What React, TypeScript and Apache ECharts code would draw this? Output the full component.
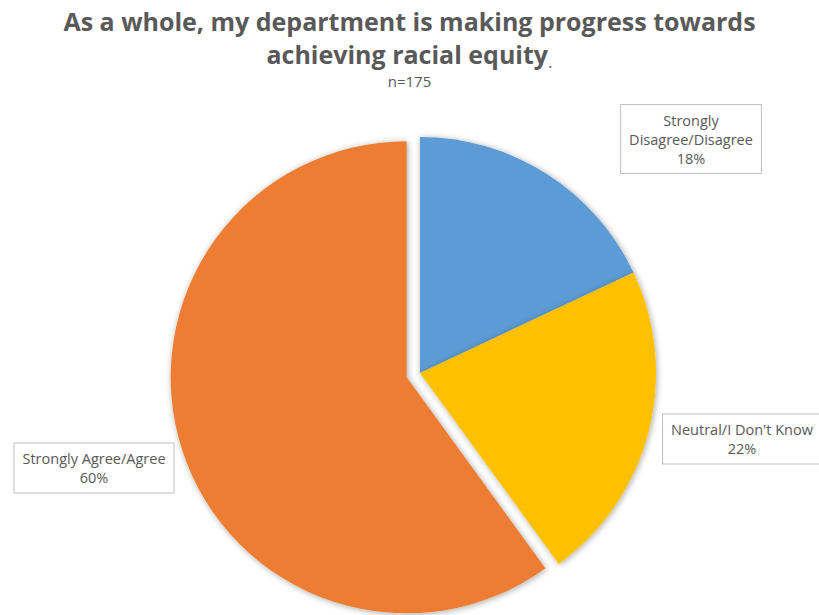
import React, { useEffect, useRef } from "react";
import * as echarts from "echarts";

const categories = ["Strongly Disagree/Disagree", "Neutral/I Don't Know", "Strongly Agree/Agree"];
const labelTexts = ["Strongly\nDisagree/Disagree", "Neutral/I Don't Know", "Strongly Agree/Agree"];
const values = [18, 22, 60];
const colors = ["#5B9BD5", "#FFC000", "#ED7D31"];
const exploded = [false, false, true];
const titleLine1 = "As a whole, my department is making progress towards";
const titleLine2 = "achieving racial equity";
const subtitle = "n=175";

const CENTER = [420, 373];
const RADIUS = 236;
const EXPLODE = 14;
const labelPos = [
  { x: 691, y: 139 },
  { x: 742, y: 439 },
  { x: 94, y: 468 },
];

export default function App() {
  const ref = useRef<HTMLDivElement>(null);
  useEffect(() => {
    if (!ref.current) return;
    const chart = echarts.init(ref.current, undefined, { renderer: "svg" });
    const total = values.reduce((a, b) => a + b, 0);
    // explosion offset of exploded slice along its bisector (clockwise from 12 o'clock)
    let acc = 0;
    let offX = 0;
    let offY = 0;
    values.forEach((v, i) => {
      const mid = ((acc + v / 2) / total) * Math.PI * 2;
      if (exploded[i]) {
        offX = EXPLODE * Math.sin(mid);
        offY = -EXPLODE * Math.cos(mid);
      }
      acc += v;
    });

    const shadow = {
      shadowBlur: 6,
      shadowColor: "rgba(0,0,0,0.35)",
      shadowOffsetX: 1,
      shadowOffsetY: 1,
    };
    const hidden = {
      itemStyle: { color: "rgba(0,0,0,0)", shadowBlur: 0, shadowColor: "rgba(0,0,0,0)" },
      label: { show: false },
    };
    const labelStyle = {
      show: true,
      position: "outside",
      fontFamily: "Open Sans",
      fontSize: 14.5,
      lineHeight: 19,
      color: "#595959",
      backgroundColor: "#ffffff",
      borderColor: "#bfbfbf",
      borderWidth: 1,
      padding: [6, 8, 5, 8],
      align: "center",
      formatter: (p: any) => `${labelTexts[p.dataIndex]}\n${p.percent}%`,
    };
    const makeSeries = (explodedPart: boolean) => ({
      type: "pie",
      center: explodedPart ? [CENTER[0] + offX, CENTER[1] + offY] : CENTER,
      radius: RADIUS,
      startAngle: 90,
      clockwise: true,
      avoidLabelOverlap: false,
      silent: true,
      itemStyle: shadow,
      label: labelStyle,
      labelLine: { show: false },
      labelLayout: (p: any) => ({
        x: labelPos[p.dataIndex].x,
        y: labelPos[p.dataIndex].y,
        align: "center",
        verticalAlign: "middle",
      }),
      emphasis: { disabled: true },
      data: categories.map((name, i) =>
        exploded[i] === explodedPart
          ? { name, value: values[i], itemStyle: { color: colors[i] } }
          : { name, value: values[i], ...hidden }
      ),
    });

    chart.setOption({
      animation: false,
      backgroundColor: "#ffffff",
      title: [
        {
          text: `{b|${titleLine1}}\n{b|${titleLine2}}{n|.}`,
          left: "center",
          top: -1,
          textStyle: {
            rich: {
              b: { fontFamily: "Open Sans", fontWeight: "bold", fontSize: 25, color: "#595959", lineHeight: 33 },
              n: { fontFamily: "Open Sans", fontWeight: "normal", fontSize: 17, color: "#595959", lineHeight: 33, verticalAlign: "bottom" },
            },
          },
        },
        {
          text: subtitle,
          left: "center",
          top: 68,
          textStyle: { fontFamily: "Open Sans", fontWeight: "normal", fontSize: 15, color: "#595959" },
        },
      ],
      series: [makeSeries(false), makeSeries(true)],
    });
    return () => chart.dispose();
  }, []);
  return <div ref={ref} style={{ position: "fixed", left: 0, top: 0, width: 819, height: 615 }} />;
}
